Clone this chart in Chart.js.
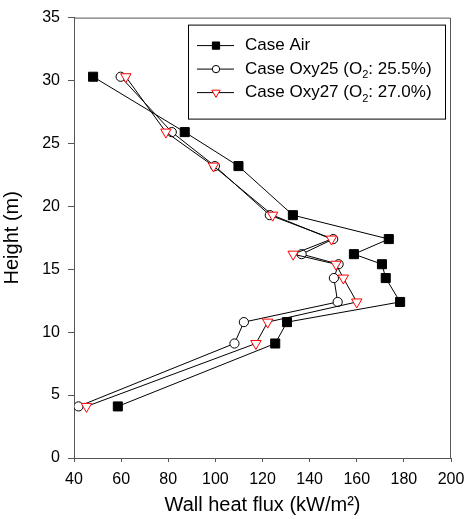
<!DOCTYPE html>
<html>
<head>
<meta charset="utf-8">
<script src="https://cdn.jsdelivr.net/npm/chart.js@4.4.0/dist/chart.umd.min.js"></script>
<style>
  html, body { margin: 0; padding: 0; background: #fff; }
  #wrap { width: 466px; height: 519px; position: relative; }
</style>
</head>
<body>
<div id="wrap"><canvas id="chart"></canvas></div>
<script>
// heights shared by all three cases (m)
const heights = [30.3, 25.9, 23.2, 19.3, 17.4, 16.2, 15.4, 14.3, 12.4, 10.8, 9.1, 4.1];
// wall heat flux (kW/m2)
const caseAir = [48.1, 87.0, 109.8, 132.9, 173.6, 158.8, 170.7, 172.3, 178.4, 130.4, 125.4, 58.6];
const caseOxy25 = [59.8, 81.5, 99.8, 123.1, 150.0, 136.6, 152.3, 150.3, 151.9, 112.1, 108.1, 41.9];
const caseOxy27 = [62.0, 79.0, 99.2, 124.3, 149.3, 133.0, 151.2, 154.3, 160.0, 122.2, 117.2, 45.3];

const seriesNames = ['Case Air', 'Case Oxy25 (O', 'Case Oxy27 (O'];
const seriesTails = ['', ': 25.5%)', ': 27.0%)'];
const xTicks = [40, 60, 80, 100, 120, 140, 160, 180, 200];
const yTicks = [0, 5, 10, 15, 20, 25, 30, 35];

const FONT = "'Liberation Sans', Arial, sans-serif";
const AXIS = '#555';

const toPoints = (xs) => xs.map((x, i) => ({ x, y: heights[i] }));

const styles = [
  { pointStyle: 'rect', pointRadius: 6.4, bg: '#000', border: '#000', rot: 0 },
  { pointStyle: 'circle', pointRadius: 4.6, bg: '#fff', border: '#000', rot: 0 },
  { pointStyle: 'triangle', pointRadius: 6, bg: '#fff', border: '#ff0000', rot: 180 }
];

const makeSet = (label, xs, st, order) => ({
  label,
  data: toPoints(xs),
  showLine: true,
  borderColor: '#000',
  borderWidth: 1,
  pointStyle: st.pointStyle,
  pointRadius: st.pointRadius,
  pointRotation: st.rot,
  pointBackgroundColor: st.bg,
  pointBorderColor: st.border,
  pointBorderWidth: 1,
  order
});

// frame + boxed legend
const framePlugin = {
  id: 'frame',
  beforeDatasetsDraw(chart) {
    const { ctx, chartArea: a } = chart;
    ctx.save();
    ctx.strokeStyle = AXIS;
    ctx.lineWidth = 1;
    ctx.beginPath();
    ctx.moveTo(a.left, a.top + 0.5);
    ctx.lineTo(a.right - 0.5, a.top + 0.5);
    ctx.lineTo(a.right - 0.5, a.bottom);
    ctx.stroke();
    ctx.restore();
  },
  afterDraw(chart) {
    const { ctx, chartArea: a } = chart;
    const bx = a.right - 263, by = a.top + 7, bw = 257, bh = 94;
    ctx.save();
    ctx.fillStyle = '#fff';
    ctx.fillRect(bx, by, bw, bh);
    ctx.strokeStyle = '#000';
    ctx.lineWidth = 1;
    ctx.strokeRect(bx + 0.5, by + 0.5, bw, bh);
    for (let i = 0; i < 3; i++) {
      const cy = by + 21 + i * 23.5;
      ctx.strokeStyle = '#000';
      ctx.beginPath();
      ctx.moveTo(bx + 9, cy);
      ctx.lineTo(bx + 46, cy);
      ctx.stroke();
      const st = styles[i];
      ctx.fillStyle = st.bg;
      ctx.strokeStyle = st.border;
      ctx.lineWidth = 1;
      Chart.helpers.drawPoint(ctx, {
        pointStyle: st.pointStyle,
        rotation: st.rot,
        radius: st.pointRadius * 0.8,
        borderWidth: 1
      }, bx + 28, cy);
      ctx.fillStyle = '#000';
      ctx.textBaseline = 'middle';
      ctx.font = '17px ' + FONT;
      let tx = bx + 57;
      ctx.fillText(seriesNames[i], tx, cy);
      if (seriesTails[i]) {
        tx += ctx.measureText(seriesNames[i]).width;
        ctx.font = '11px ' + FONT;
        ctx.fillText('2', tx, cy + 6);
        tx += ctx.measureText('2').width;
        ctx.font = '17px ' + FONT;
        ctx.fillText(seriesTails[i], tx, cy);
      }
    }
    ctx.restore();
  }
};

new Chart(document.getElementById('chart'), {
  type: 'scatter',
  data: {
    datasets: [
      makeSet('Case Air', caseAir, styles[0], 3),
      makeSet('Case Oxy25', caseOxy25, styles[1], 2),
      makeSet('Case Oxy27', caseOxy27, styles[2], 1)
    ]
  },
  options: {
    responsive: true,
    maintainAspectRatio: false,
    animation: false,
    layout: { padding: { top: 17, right: 15, left: 0, bottom: 0 } },
    plugins: {
      legend: { display: false },
      tooltip: { enabled: false }
    },
    scales: {
      x: {
        type: 'linear',
        min: 40,
        max: 200,
        afterBuildTicks: (s) => { s.ticks = xTicks.map(v => ({ value: v })); },
        afterFit: (s) => { s.height = 61; s.paddingRight = 0; s.paddingLeft = 0; },
        grid: { drawOnChartArea: false, drawTicks: true, tickLength: 4, color: AXIS },
        border: { color: AXIS, width: 1 },
        ticks: { color: '#000', font: { family: FONT, size: 16 }, padding: 8, maxRotation: 0 },
        title: {
          display: true,
          text: 'Wall heat flux (kW/m²)',
          color: '#000',
          font: { family: FONT, size: 20 },
          padding: { top: 0, bottom: 2 }
        }
      },
      y: {
        type: 'linear',
        min: 0,
        max: 35,
        afterBuildTicks: (s) => { s.ticks = yTicks.map(v => ({ value: v })); },
        afterFit: (s) => { s.width = 74; },
        grid: { drawOnChartArea: false, drawTicks: true, tickLength: 6, color: AXIS },
        border: { color: AXIS, width: 1 },
        ticks: { color: '#000', font: { family: FONT, size: 16 }, padding: 8 },
        title: {
          display: true,
          text: 'Height (m)',
          color: '#000',
          font: { family: FONT, size: 20 },
          padding: { top: 0, bottom: 0 }
        }
      }
    }
  },
  plugins: [framePlugin]
});
</script>
</body>
</html>
